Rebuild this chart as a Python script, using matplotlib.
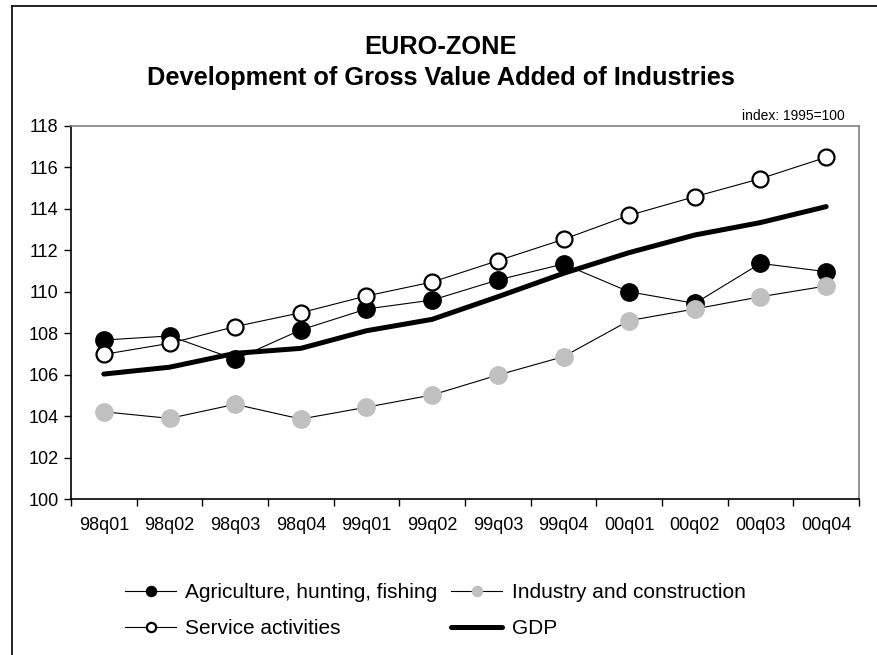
import matplotlib
matplotlib.use("Agg")
import matplotlib.pyplot as plt
from matplotlib.lines import Line2D

plt.rcParams['font.family'] = ['Liberation Sans', 'DejaVu Sans']

quarters = ["98q01", "98q02", "98q03", "98q04", "99q01", "99q02",
            "99q03", "99q04", "00q01", "00q02", "00q03", "00q04"]
agriculture = [107.67, 107.87, 106.74, 108.16, 109.17, 109.60,
               110.57, 111.34, 110.00, 109.44, 111.37, 110.97]
industry = [104.21, 103.89, 104.57, 103.86, 104.43, 105.02,
            105.98, 106.87, 108.61, 109.17, 109.76, 110.28]
services = [106.98, 107.51, 108.32, 108.99, 109.80, 110.47,
            111.50, 112.53, 113.69, 114.59, 115.46, 116.49]
gdp = [106.03, 106.36, 107.03, 107.27, 108.12, 108.67,
       109.76, 110.89, 111.89, 112.74, 113.34, 114.11]
yticks = [100, 102, 104, 106, 108, 110, 112, 114, 116, 118]

W, H = 878, 655
fig = plt.figure(figsize=(W / 100, H / 100), dpi=100)
ax = fig.add_axes([71 / W, 1 - 499 / H, (859 - 71) / W, (499 - 126) / H])

x = list(range(len(quarters)))
ax.plot(x, agriculture, color='black', lw=0.8, marker='o', ms=12.5,
        mfc='black', mec='black', label='Agriculture, hunting, fishing', zorder=3)
ax.plot(x, industry, color='black', lw=0.8, marker='o', ms=12.5,
        mfc='#C0C0C0', mec='#C0C0C0', label='Industry and construction', zorder=3)
ax.plot(x, services, color='black', lw=0.8, marker='o', ms=11.5,
        mfc='white', mec='black', mew=1.6, label='Service activities', zorder=3)
ax.plot(x, gdp, color='black', lw=3.6, label='GDP', zorder=4,
        solid_capstyle='round')

ax.set_xlim(-0.5, len(quarters) - 0.5)
ax.set_ylim(100, 118)
ax.set_yticks(yticks)
ax.set_yticklabels([str(v) for v in yticks])
ax.set_xticks(x)
ax.set_xticklabels(quarters)
ax.set_xticks([i + 0.5 for i in range(-1, len(quarters))], minor=True)
ax.tick_params(axis='x', which='major', length=0, pad=13, labelsize=13)
ax.tick_params(axis='x', which='minor', length=5, width=1, direction='out')
ax.tick_params(axis='y', length=5, width=1, direction='out', pad=4, labelsize=13)

for s in ['left', 'bottom']:
    ax.spines[s].set_color('black')
    ax.spines[s].set_linewidth(1.2)
for s in ['top', 'right']:
    ax.spines[s].set_color('#808080')
    ax.spines[s].set_linewidth(1.2)

fig.text(441 / W, 1 - 47 / H, "EURO-ZONE", ha='center', va='center',
         fontsize=18.3, fontweight='bold')
fig.text(441 / W, 1 - 78 / H, "Development of Gross Value Added of Industries",
         ha='center', va='center', fontsize=18.3, fontweight='bold')
fig.text(845 / W, 1 - 116 / H, "index: 1995=100", ha='right', va='center',
         fontsize=10)

handles, labels = ax.get_legend_handles_labels()
order = [0, 2, 1, 3]
leg = fig.legend([handles[i] for i in order], [labels[i] for i in order],
                 loc='upper left', bbox_to_anchor=(125 / W, 1 - 583 / H),
                 ncol=2, frameon=False, fontsize=15, handlelength=2.45,
                 handletextpad=0.45, columnspacing=0.65, labelspacing=0.84,
                 markerscale=0.58, borderpad=0, borderaxespad=0)

# figure border (top and left visible)
fig.add_artist(Line2D([12 / W, 1.0], [1 - 6 / H, 1 - 6 / H], color='black', lw=1.2,
                      transform=fig.transFigure))
fig.add_artist(Line2D([12 / W, 12 / W], [1 - 6 / H, 0.0], color='black', lw=1.2,
                      transform=fig.transFigure))

fig.savefig("out.png", dpi=100)
